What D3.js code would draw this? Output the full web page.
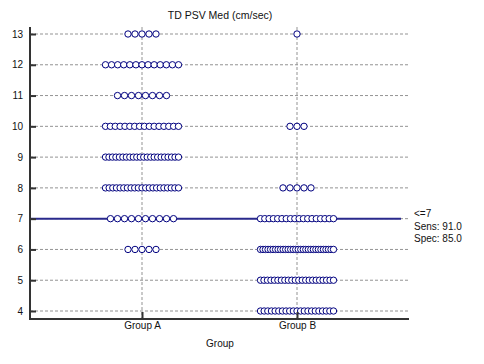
<!DOCTYPE html>
<html><head><meta charset="utf-8">
<script src="https://cdn.jsdelivr.net/npm/d3@7/dist/d3.min.js"></script>
<style>body{margin:0;background:#fff}svg{display:block}text{font-family:"Liberation Sans",Arial,sans-serif;fill:#111}</style>
</head><body><svg id="c" width="484" height="364"></svg>
<script>
const categories = ["Group A", "Group B"];
const levels = [13, 12, 11, 10, 9, 8, 7, 6, 5, 4];
const countsA = [5, 13, 8, 16, 22, 21, 10, 5, 0, 0];
const countsB = [1, 0, 0, 3, 0, 5, 18, 30, 22, 21];
const yTicks = [4, 5, 6, 7, 8, 9, 10, 11, 12, 13];
const criterion = 7;
const legendLines = ["<=7", "Sens: 91.0", "Spec: 85.0"];
const titleText = "TD PSV Med (cm/sec)";
const xTitle = "Group";

(function () {
const svg = d3.select("#c");
const pl = 30, pr = 409, pt = 27, pb = 319;
const y = d3.scaleLinear().domain([4, 13]).range([311, 34]);
const x = d3.scalePoint().domain(categories).range([142, 297]);

// grid
const g = svg.append("g");
g.selectAll("line.h").data(yTicks).join("line").attr("class", "h")
  .attr("x1", pl).attr("x2", pr).attr("y1", d => y(d)).attr("y2", d => y(d))
  .attr("stroke", "#939393").attr("stroke-dasharray", "3,2").attr("stroke-width", 1);
g.selectAll("line.v").data(categories).join("line").attr("class", "v")
  .attr("x1", d => x(d)).attr("x2", d => x(d)).attr("y1", pt).attr("y2", pb)
  .attr("stroke", "#939393").attr("stroke-dasharray", "3,2").attr("stroke-width", 1);

// criterion line
svg.append("line").attr("x1", pl).attr("x2", 401)
  .attr("y1", y(criterion)).attr("y2", y(criterion))
  .attr("stroke", "#2a2a8c").attr("stroke-width", 2);

// dots
const maxSpan = 73, step = 7;
const dots = [];
[countsA, countsB].forEach((counts, gi) => {
  counts.forEach((n, li) => {
    if (!n) return;
    const s = n > 1 ? Math.min(step, maxSpan / (n - 1)) : 0;
    for (let i = 0; i < n; i++) {
      dots.push({ cat: categories[gi], v: levels[li], off: (i - (n - 1) / 2) * s });
    }
  });
});
svg.append("g").selectAll("circle").data(dots).join("circle")
  .attr("cx", d => x(d.cat) + d.off).attr("cy", d => y(d.v)).attr("r", 3.2)
  .attr("fill", "#fff").attr("stroke", "#00007f").attr("stroke-width", 1);

// axes
const ya = svg.append("g").attr("transform", `translate(${pl},0)`)
  .call(d3.axisRight(y).tickValues(yTicks).tickSize(6).tickFormat(d3.format("d")));
ya.select(".domain").remove();
ya.selectAll(".tick line").attr("stroke", "#333").attr("stroke-width", 2);
ya.selectAll(".tick text").attr("x", -7).attr("text-anchor", "end").attr("font-size", 10).attr("fill", "#111");

const xa = svg.append("g").attr("transform", `translate(0,${pb})`)
  .call(d3.axisTop(x).tickSize(7).tickFormat(d => d));
xa.select(".domain").remove();
xa.selectAll(".tick line").attr("stroke", "#333").attr("stroke-width", 2);
xa.selectAll(".tick text").attr("y", 10).attr("dy", 0).attr("font-size", 10).attr("fill", "#111");

svg.append("line").attr("x1", pl).attr("x2", pl).attr("y1", pt).attr("y2", pb + 1)
  .attr("stroke", "#333").attr("stroke-width", 2);
svg.append("line").attr("x1", pl - 1).attr("x2", pr).attr("y1", pb).attr("y2", pb)
  .attr("stroke", "#333").attr("stroke-width", 2);

// titles
svg.append("text").attr("x", 220).attr("y", 19).attr("text-anchor", "middle")
  .attr("font-size", 10.5).text(titleText);
svg.append("text").attr("x", 220).attr("y", 347).attr("text-anchor", "middle")
  .attr("font-size", 10).text(xTitle);

// legend
svg.append("g").selectAll("text").data(legendLines).join("text")
  .attr("x", 414).attr("y", (d, i) => 217 + i * 12.5).attr("font-size", 10).text(d => d);
})();
</script></body></html>
